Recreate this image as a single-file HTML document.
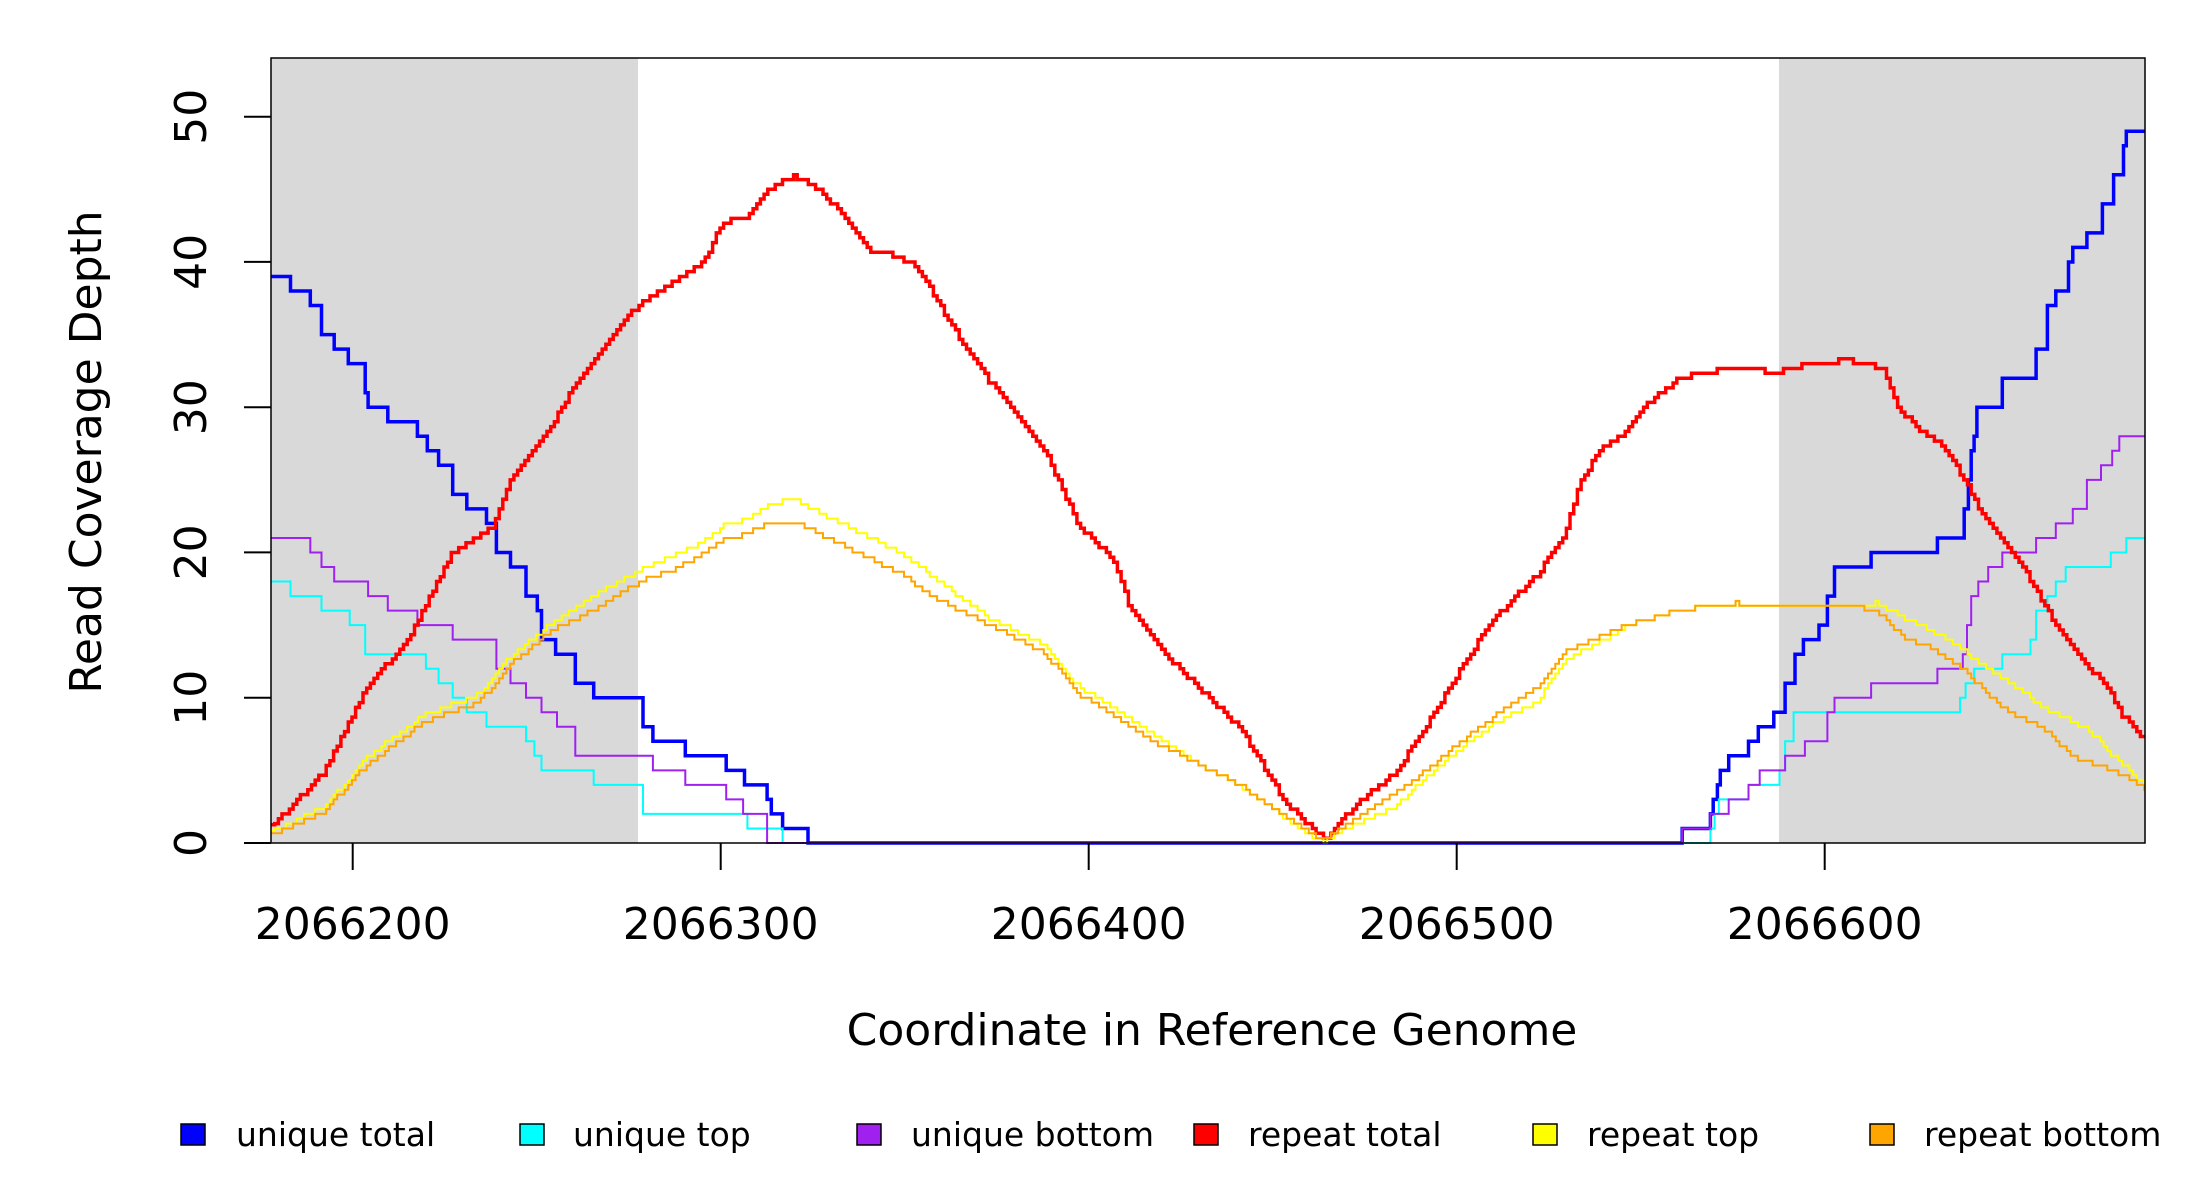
<!DOCTYPE html>
<html><head><meta charset="utf-8"><style>
html,body{margin:0;padding:0;background:#fff;}
svg{display:block;}
text{font-family:"DejaVu Sans","Liberation Sans",sans-serif;fill:#000;}
</style></head><body>
<svg id="s" width="2200" height="1200" viewBox="0 0 2200 1200" xmlns="http://www.w3.org/2000/svg">
<rect x="0" y="0" width="2200" height="1200" fill="#fff"/>
<rect x="271" y="58" width="367" height="785" fill="#d9d9d9"/>
<rect x="1779" y="58" width="366" height="785" fill="#d9d9d9"/>
<g id="series"></g>
<rect x="271" y="58" width="1874" height="785" fill="none" stroke="#000" stroke-width="1.5"/>
<g stroke="#000" stroke-width="2">
<line x1="244" y1="843" x2="271" y2="843"/><line x1="244" y1="697.7" x2="271" y2="697.7"/><line x1="244" y1="552.4" x2="271" y2="552.4"/><line x1="244" y1="407.2" x2="271" y2="407.2"/><line x1="244" y1="261.9" x2="271" y2="261.9"/><line x1="244" y1="116.7" x2="271" y2="116.7"/>
<line x1="352.7" y1="843" x2="352.7" y2="870"/><line x1="720.7" y1="843" x2="720.7" y2="870"/><line x1="1088.7" y1="843" x2="1088.7" y2="870"/><line x1="1456.7" y1="843" x2="1456.7" y2="870"/><line x1="1824.7" y1="843" x2="1824.7" y2="870"/>
</g>
<g font-size="44" text-anchor="middle">
<text transform="translate(206,843) rotate(-90)">0</text>
<text transform="translate(206,697.7) rotate(-90)">10</text>
<text transform="translate(206,552.4) rotate(-90)">20</text>
<text transform="translate(206,407.2) rotate(-90)">30</text>
<text transform="translate(206,261.9) rotate(-90)">40</text>
<text transform="translate(206,116.7) rotate(-90)">50</text>
<text x="352.7" y="939">2066200</text>
<text x="720.7" y="939">2066300</text>
<text x="1088.7" y="939">2066400</text>
<text x="1456.7" y="939">2066500</text>
<text x="1824.7" y="939">2066600</text>
<text x="1212" y="1045">Coordinate in Reference Genome</text>
<text transform="translate(101,452) rotate(-90)">Read Coverage Depth</text>
</g>
<g stroke="#000" stroke-width="1.5">
<rect x="181" y="1124" width="24" height="21" fill="#0000ff"/>
<rect x="520" y="1124" width="24" height="21" fill="#00ffff"/>
<rect x="857" y="1124" width="24" height="21" fill="#a020f0"/>
<rect x="1194" y="1124" width="24" height="21" fill="#ff0000"/>
<rect x="1533" y="1124" width="24" height="21" fill="#ffff00"/>
<rect x="1870" y="1124" width="24" height="21" fill="#ffa500"/>
</g>
<g font-size="33">
<text x="236" y="1146">unique total</text>
<text x="573" y="1146">unique top</text>
<text x="911" y="1146">unique bottom</text>
<text x="1248" y="1146">repeat total</text>
<text x="1587" y="1146">repeat top</text>
<text x="1924" y="1146">repeat bottom</text>
</g>
</svg>
<script>
var NS="http://www.w3.org/2000/svg";
function AX(dx){return 352.7+(dx-250.1)*1.41;}
function AY(v){return 843-v*14.526;}
function dv(dy){return (601-dy)/10.36;}
function stepInt(arr,color,w){
  var x=271, d="M"+x+","+AY(arr[0][0]);
  for(var i=0;i<arr.length;i++){
    var xe=Math.min(2145,AX(arr[i][1]));
    d+=" H"+xe.toFixed(1);
    if(i+1<arr.length) d+=" V"+AY(arr[i+1][0]).toFixed(1);
  }
  add(d,color,w);
}
function stepSmooth(pts,color,w){
  var xs=pts.map(function(p){return AX(p[0]);}), ys=pts.map(function(p){return dv(p[1]);});
  function val(x){
    if(x<=xs[0])return ys[0];
    for(var i=1;i<xs.length;i++){if(x<=xs[i]){var t=(x-xs[i-1])/(xs[i]-xs[i-1]);return ys[i-1]+t*(ys[i]-ys[i-1]);}}
    return ys[ys.length-1];
  }
  var x=271, v=Math.max(0,val(x)), d="M"+x+","+AY(v).toFixed(1);
  while(x<2145){
    var nx=Math.min(2145,x+3.68);
    d+=" H"+nx.toFixed(1);
    x=nx; v=Math.max(0,Math.round(val(x)*3)/3);
    if(x<2145) d+=" V"+AY(v).toFixed(1);
  }
  add(d,color,w);
}
function add(d,c,w){var p=document.createElementNS(NS,"path");p.setAttribute("d",d);p.setAttribute("fill","none");p.setAttribute("stroke",c);p.setAttribute("stroke-width",w);document.getElementById("series").appendChild(p);}
var blue=[[39,206],[38,220],[37,228],[35,237],[34,247],[33,259],[31,261],[30,275],[29,296],[28,303],[27,311],[26,321],[24,331],[23,345],[22,352],[20,362],[19,373],[17,381],[16,384],[14,394],[13,408],[11,421],[10,456],[8,463],[7,486],[6,515],[5,528],[4,544],[3,547],[2,555],[1,573],[0,1193],[1,1213],[2,1215],[3,1218],[4,1220],[5,1226],[6,1240],[7,1247],[8,1258],[9,1266],[11,1273],[13,1279],[14,1290],[15,1296],[17,1301],[19,1327],[20,1374],[21,1393],[23,1396],[25,1398],[27,1400],[28,1402],[30,1420],[32,1444],[34,1452],[37,1458],[38,1467],[40,1470],[41,1480],[42,1491],[44,1499],[46,1506],[48,1508],[49,1530]];
var cyan=[[18,206],[17,228],[16,248],[15,259],[13,302],[12,311],[11,321],[10,331],[9,345],[8,373],[7,379],[6,384],[5,421],[4,456],[2,530],[1,555],[0,1213],[1,1216],[2,1219],[3,1240],[4,1262],[5,1266],[7,1272],[9,1300],[9,1390],[10,1394],[11,1400],[12,1420],[13,1440],[14,1444],[16,1452],[17,1458],[18,1465],[19,1497],[20,1508],[21,1530]];
var purple=[[21,220],[20,228],[19,237],[18,261],[17,275],[16,296],[15,321],[14,352],[12,362],[11,373],[10,384],[9,395],[8,408],[6,463],[5,486],[4,515],[3,527],[2,544],[0,1193],[1,1213],[2,1226],[3,1240],[4,1248],[5,1266],[6,1280],[7,1296],[9,1301],[10,1327],[11,1374],[12,1392],[13,1395],[15,1398],[17,1403],[18,1410],[19,1420],[20,1444],[21,1458],[22,1470],[23,1480],[25,1490],[26,1498],[27,1503],[28,1530]];
var red=[[194,588],[230,550],[260,490],[290,455],[320,395],[350,375],[360,345],[390,305],[410,270],[440,230],[456,215],[480,200],[500,185],[512,158],[530,155],[545,135],[563,125],[580,135],[600,155],[615,178],[630,180],[650,190],[665,215],[680,240],[700,270],[720,295],[740,320],[765,375],[790,400],[800,430],[830,470],[850,490],[880,520],[895,545],[910,570],[930,590],[940,598],[960,575],[990,550],[1010,520],[1040,470],[1060,440],[1090,410],[1110,380],[1120,345],[1135,320],[1150,310],[1165,290],[1190,270],[1210,265],[1230,263],[1260,265],[1290,258],[1310,257],[1335,262],[1345,290],[1360,305],[1380,320],[1395,345],[1405,365],[1420,385],[1435,405],[1455,440],[1475,470],[1495,490],[1505,510],[1526,532]];
var yellow=[[194,592],[230,575],[260,540],[300,510],[340,495],[360,470],[390,445],[420,425],[456,405],[480,395],[500,385],[512,375],[530,370],[545,360],[563,355],[580,365],[600,375],[620,385],[640,395],[660,410],[680,425],[700,440],[720,450],[740,460],[765,490],[790,505],[820,525],[850,545],[870,555],[900,575],[930,597],[940,600],[955,590],[990,575],[1010,555],[1040,530],[1060,515],[1090,500],[1110,470],[1130,460],[1155,445],[1190,435],[1230,430],[1270,432],[1300,432],[1330,430],[1350,440],[1380,455],[1400,470],[1430,490],[1450,505],[1480,520],[1500,540],[1526,565]];
var orange=[[194,594],[230,578],[260,545],[300,515],[340,500],[360,475],[390,450],[420,435],[456,413],[480,405],[500,393],[512,385],[530,380],[545,373],[563,372],[580,380],[600,390],[620,400],[640,410],[660,425],[680,435],[700,445],[720,455],[740,465],[765,495],[790,510],[820,530],[850,545],[880,560],[900,575],[930,595],[940,598],[955,588],[990,565],[1010,550],[1040,525],[1060,510],[1090,490],[1110,465],[1130,455],[1155,445],[1190,435],[1230,430],[1270,432],[1300,430],[1330,435],[1350,455],[1370,462],[1395,480],[1420,505],[1450,520],[1470,540],[1500,550],[1526,565]];
stepInt(blue,"#0000ff",3.5);
stepInt(cyan,"#00ffff",2);
stepInt(purple,"#a020f0",2);
stepSmooth(red,"#ff0000",3.5);
stepSmooth(yellow,"#ffff00",2);
stepSmooth(orange,"#ffa500",2);
</script>
</body></html>
